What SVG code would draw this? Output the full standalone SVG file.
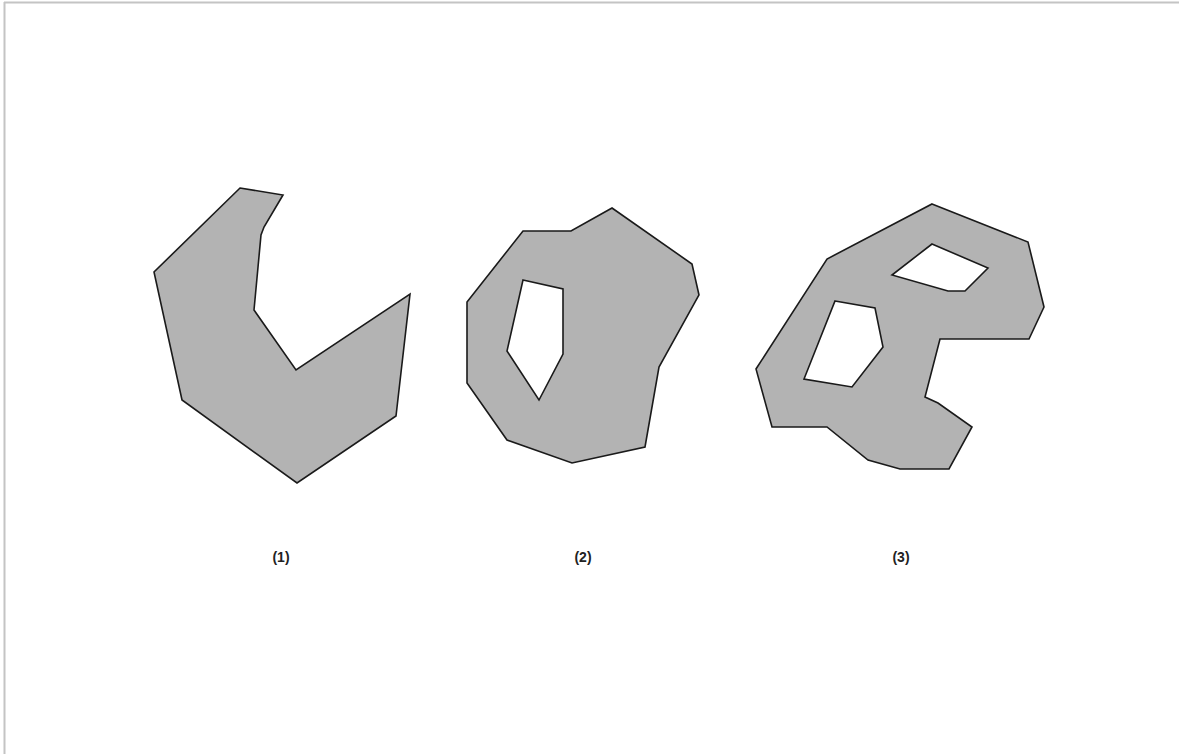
<svg xmlns="http://www.w3.org/2000/svg" width="1179" height="754" viewBox="0 0 1179 754">
<style>
.shape{fill:#b3b3b3;stroke:#1a1a1a;stroke-width:1.6;stroke-linejoin:miter;fill-rule:evenodd}
.lbl{font-family:"Liberation Sans Narrow","Liberation Sans",Arial,sans-serif;font-size:14px;font-weight:bold;fill:#222;text-anchor:middle}
</style>
<rect x="0" y="0" width="1179" height="754" fill="#ffffff"/>
<line x1="4" y1="2.5" x2="1179" y2="2.5" stroke="#c4c4c4" stroke-width="2"/>
<line x1="4.5" y1="2" x2="4.5" y2="754" stroke="#c4c4c4" stroke-width="2"/>
<g id="shape1">
<path class="shape" d="M240,188 L283,195 L264,227 L261,235 L254,310 L296,370 L410,294 L396,416 L297,483 L182,400 L154,272 Z"/>
</g>
<g id="shape2">
<path class="shape" d="M612,208 L692,264 L699,295 L659,367 L645,447 L572,463 L507,440 L467,383 L467,302 L523,231 L571,231 Z M523,280 L563,289 L563,354 L539,400 L507,351 Z"/>
</g>
<g id="shape3">
<path class="shape" d="M932,204 L1028,242 L1044,307 L1029,339 L940,339 L925,397 L938,403 L972,427 L949,469 L900,469 L868,460 L827,427 L772,427 L756,369 L827,259 Z M932,244 L988,268 L965,291 L948,291 L892,275 Z M835,301 L875,308 L883,347 L852,387 L804,379 Z"/>
</g>
<g id="labels">
<text class="lbl" x="281" y="562">(1)</text>
<text class="lbl" x="583" y="562">(2)</text>
<text class="lbl" x="901" y="562">(3)</text>
</g>
<g id="connectors"></g>
</svg>
